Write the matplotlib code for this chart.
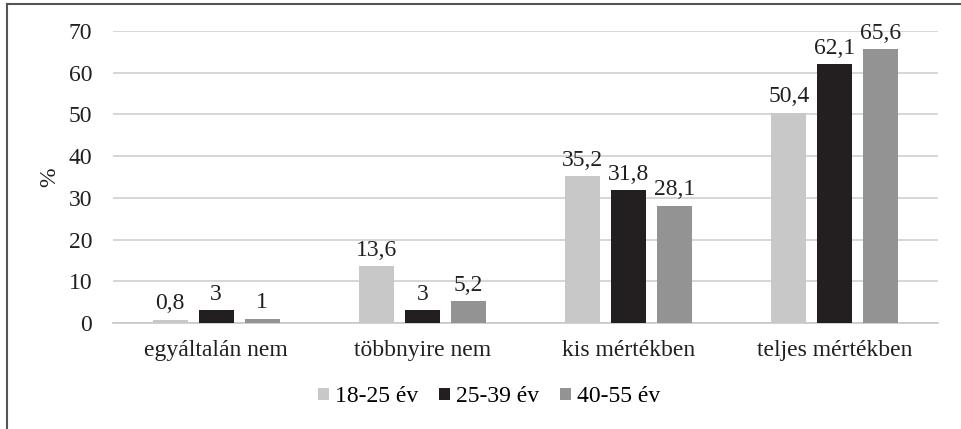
import matplotlib.pyplot as plt
import numpy as np

plt.rcParams['font.family'] = ['Liberation Serif', 'DejaVu Serif']

kategoriak = ['egyáltalán nem', 'többnyire nem', 'kis mértékben', 'teljes mértékben']
csoportok = ['18-25 év', '25-39 év', '40-55 év']
ertekek = [
    [0.8, 13.6, 35.2, 50.4],
    [3, 3, 31.8, 62.1],
    [1, 5.2, 28.1, 65.6],
]
cimkek = [
    ['0,8', '13,6', '35,2', '50,4'],
    ['3', '3', '31,8', '62,1'],
    ['1', '5,2', '28,1', '65,6'],
]
szinek = ['#c8c8c8', '#231f20', '#939393']
fs = 17

fig = plt.figure(figsize=(9.62, 4.29), dpi=100)
ax = fig.add_axes([113 / 962, 1 - 323 / 429, 825 / 962, 292 / 429])

x = np.arange(len(kategoriak))
szel = 0.17
lep = 0.223
for i, (sor, cim) in enumerate(zip(ertekek, cimkek)):
    pos = x + (i - 1) * lep
    bars = ax.bar(pos, sor, width=szel, color=szinek[i], label=csoportok[i], zorder=3)
    for b, c in zip(bars, cim):
        ax.text(b.get_x() + b.get_width() / 2, b.get_height() + 1.3, c,
                ha='center', va='bottom', fontsize=fs, color='#231f20', zorder=4)

ax.set_xlim(-0.5, 3.5)
ax.set_ylim(0, 70)
ax.set_yticks(range(0, 71, 10))
ax.set_xticks(x)
ax.set_xticklabels(kategoriak)
ax.tick_params(length=0, labelsize=fs, colors='#231f20')
ax.tick_params(axis='x', pad=12)
ax.tick_params(axis='y', pad=15)
ax.yaxis.grid(True, color='#d0d0d0', linewidth=1.2, zorder=0)
for s in ['top', 'right', 'left']:
    ax.spines[s].set_visible(False)
ax.spines['bottom'].set_color('#c8c8c8')
ax.spines['bottom'].set_linewidth(1.2)
ax.set_ylabel('%', fontsize=fs, color='#231f20', labelpad=6)

fig.legend(loc='center', bbox_to_anchor=(489 / 962, 1 - 397 / 429), ncol=3,
           frameon=False, fontsize=fs, handlelength=0.45, handleheight=0.45,
           handletextpad=0.25, columnspacing=0.9)

# keret (csak bal és felső él látszik)
fig.add_artist(plt.Line2D([6.5 / 962, 6.5 / 962], [0, 1 - 4 / 429], transform=fig.transFigure,
                          color='#555555', linewidth=1.5))
fig.add_artist(plt.Line2D([6.5 / 962, 1], [1 - 4 / 429, 1 - 4 / 429], transform=fig.transFigure,
                          color='#555555', linewidth=1.5))

fig.savefig('out.png', dpi=100)
